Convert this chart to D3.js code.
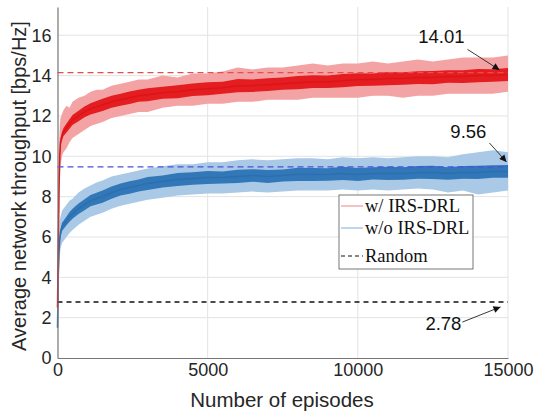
<!DOCTYPE html>
<html>
<head>
<meta charset="utf-8">
<script src="https://cdn.jsdelivr.net/npm/d3@7"></script>
<style>
  body { margin: 0; background: #fff; }
  svg { display: block; }
  .tick text { font-family: "Liberation Sans", Arial, sans-serif; font-size: 18px; fill: #262626; }
</style>
</head>
<body>
<div id="vis"></div>
<script>
// datos ------------------------------------------------------------------------
const EPISODES = [0, 25, 50, 75, 100, 150, 200, 300, 400, 500, 700, 900, 1100, 1300, 1500,
  1800, 2100, 2400, 2700, 3000, 3500, 4000, 4500, 5000, 5500, 6000, 6500, 7000, 7500, 8000,
  8500, 9000, 9500, 10000, 10500, 11000, 11500, 12000, 12500, 13000, 13500, 14000, 14500, 15000];

const RED_MEAN = [2.5, 5.5, 8.5, 10.0, 10.7, 11.0, 11.2, 11.4, 11.6, 11.8, 12.0, 12.2, 12.35, 12.45, 12.55,
  12.7, 12.8, 12.9, 13.0, 13.05, 13.15, 13.2, 13.3, 13.35, 13.4, 13.5, 13.5, 13.55, 13.6, 13.65,
  13.7, 13.7, 13.75, 13.8, 13.8, 13.85, 13.85, 13.9, 13.9, 13.95, 13.95, 14.0, 14.0, 14.05];
const RED_HI = [3.0, 8.5, 10.5, 11.5, 11.9, 12.1, 12.3, 12.5, 12.4, 12.7, 12.9, 13.0, 13.2, 13.3, 13.3,
  13.5, 13.6, 13.7, 13.8, 13.8, 14.0, 13.9, 14.1, 14.1, 14.2, 14.4, 14.3, 14.4, 14.4, 14.5,
  14.6, 14.5, 14.6, 14.6, 14.7, 14.6, 14.7, 14.8, 14.7, 14.8, 14.9, 14.9, 14.9, 15.0];
const RED_LO = [2.0, 3.5, 6.0, 8.5, 9.5, 10.0, 10.2, 10.4, 10.7, 10.9, 11.1, 11.3, 11.5, 11.6, 11.7,
  11.9, 12.0, 12.1, 12.2, 12.2, 12.4, 12.5, 12.5, 12.6, 12.6, 12.7, 12.7, 12.8, 12.8, 12.8,
  12.9, 12.9, 12.9, 12.9, 13.0, 13.0, 12.9, 13.0, 13.0, 13.1, 13.1, 13.1, 13.1, 13.2];

const BLUE_MEAN = [1.5, 4.0, 5.3, 5.9, 6.2, 6.5, 6.6, 6.8, 7.0, 7.15, 7.4, 7.6, 7.8, 7.9, 8.0,
  8.2, 8.35, 8.45, 8.55, 8.65, 8.75, 8.85, 8.9, 8.95, 8.95, 9.0, 9.05, 9.0, 9.05, 9.1,
  9.1, 9.1, 9.15, 9.1, 9.15, 9.15, 9.15, 9.2, 9.2, 9.15, 9.2, 9.2, 9.25, 9.25];
const BLUE_HI = [2.0, 5.0, 6.2, 6.8, 7.0, 7.3, 7.4, 7.6, 7.8, 7.9, 8.2, 8.4, 8.55, 8.7, 8.8,
  9.0, 9.1, 9.2, 9.3, 9.4, 9.5, 9.6, 9.6, 9.7, 9.7, 9.8, 9.85, 9.8, 9.85, 9.9,
  9.9, 9.85, 9.95, 9.9, 9.95, 9.9, 9.95, 10.0, 10.0, 9.95, 10.1, 10.2, 10.3, 10.2];
const BLUE_LO = [1.2, 3.0, 4.3, 5.0, 5.4, 5.7, 5.8, 6.0, 6.2, 6.35, 6.6, 6.8, 7.0, 7.1, 7.2,
  7.4, 7.55, 7.65, 7.75, 7.85, 7.95, 8.05, 8.1, 8.15, 8.15, 8.2, 8.25, 8.2, 8.25, 8.3,
  8.3, 8.3, 8.35, 8.3, 8.35, 8.3, 8.35, 8.4, 8.35, 8.2, 8.3, 8.1, 8.2, 8.3];

// ancho del trazo oscuro (ruido del promedio)
const TRACE_SPREAD = [0.05, 0.1, 0.15, 0.15, 0.2, 0.2, 0.2, 0.22, 0.24, 0.25, 0.26, 0.27, 0.28, 0.29, 0.3,
  0.3, 0.3, 0.31, 0.3, 0.32, 0.3, 0.32, 0.31, 0.32, 0.3, 0.33, 0.31, 0.32, 0.3, 0.33,
  0.32, 0.31, 0.33, 0.32, 0.3, 0.33, 0.31, 0.32, 0.33, 0.31, 0.32, 0.33, 0.31, 0.32];

const REF_LINES = [
  { name: "red", value: 14.15 },
  { name: "blue", value: 9.47 },
  { name: "random", value: 2.78 }
];
const ANNOTATIONS = [
  { label: "14.01", tx: 12780, ty: 15.94, x0: 13650, y0: 15.3, x1: 14720, y1: 14.28 },
  { label: "9.56", tx: 13680, ty: 11.23, x0: 14380, y0: 10.66, x1: 14950, y1: 9.72 },
  { label: "2.78", tx: 12850, ty: 1.71, x0: 13480, y0: 1.78, x1: 14750, y1: 2.53 }
];
const X_TICKS = [0, 5000, 10000, 15000];
const Y_TICKS = [0, 2, 4, 6, 8, 10, 12, 14, 16];
const LEGEND = ["w/ IRS-DRL", "w/o IRS-DRL", "Random"];

// ------------------------------------------------------------------------------
const WIDTH = 535;
const HEIGHT = 418;
const SVG = d3.select("#vis").append("svg").attr("width", WIDTH).attr("height", HEIGHT);

const x = d3.scaleLinear().domain([0, 15000]).range([57.5, 508]);
const y = d3.scaleLinear().domain([0, 17.4]).range([358, 7]);

// rejilla
SVG.append("g").selectAll("line").data(Y_TICKS.slice(1)).join("line")
  .attr("x1", x(0)).attr("x2", x(15000))
  .attr("y1", d => y(d)).attr("y2", d => y(d))
  .attr("stroke", "#e3e3e3").attr("stroke-width", 1);
SVG.append("g").selectAll("line").data(X_TICKS.slice(1)).join("line")
  .attr("x1", d => x(d)).attr("x2", d => x(d))
  .attr("y1", y(0)).attr("y2", y(17.4))
  .attr("stroke", "#e3e3e3").attr("stroke-width", 1);

// bandas
function band(hi, lo) {
  return d3.area()
    .x((d, i) => x(EPISODES[i]))
    .y0((d, i) => y(lo[i]))
    .y1((d, i) => y(hi[i]))(EPISODES);
}
function trace(mean) {
  return d3.area()
    .x((d, i) => x(EPISODES[i]))
    .y0((d, i) => y(mean[i] - TRACE_SPREAD[i]))
    .y1((d, i) => y(mean[i] + TRACE_SPREAD[i]))(EPISODES);
}
const meanLine = d3.line().x((d, i) => x(EPISODES[i])).y(d => y(d));

SVG.append("path").attr("d", band(BLUE_HI, BLUE_LO)).attr("fill", "#a9c9e6");
SVG.append("path").attr("d", trace(BLUE_MEAN)).attr("fill", "#3278b8");
SVG.append("path").attr("d", meanLine(BLUE_MEAN)).attr("fill", "none").attr("stroke", "#2c6fae").attr("stroke-width", 1.5);

SVG.append("path").attr("d", band(RED_HI, RED_LO)).attr("fill", "#f4a3a4");
SVG.append("path").attr("d", trace(RED_MEAN)).attr("fill", "#e41d20");
SVG.append("path").attr("d", meanLine(RED_MEAN)).attr("fill", "none").attr("stroke", "#dc1418").attr("stroke-width", 1.5);

// lineas de referencia
const refColor = { red: "#ee4a4a", blue: "#4b4fe0", random: "#111" };
SVG.append("g").selectAll("line").data(REF_LINES).join("line")
  .attr("x1", x(0)).attr("x2", x(15000))
  .attr("y1", d => y(d.value)).attr("y2", d => y(d.value))
  .attr("stroke", d => refColor[d.name])
  .attr("stroke-width", d => d.name === "random" ? 1.5 : 1.2)
  .attr("stroke-dasharray", d => d.name === "random" ? "5,4" : "6,4");

// ejes
const xAxis = SVG.append("g").attr("transform", `translate(0,${y(0)})`)
  .call(d3.axisBottom(x).tickValues(X_TICKS).tickFormat(d3.format("d")).tickSize(0).tickPadding(3));
const yAxis = SVG.append("g").attr("transform", `translate(${x(0)},0)`)
  .call(d3.axisLeft(y).tickValues(Y_TICKS).tickSize(0).tickPadding(6));
[xAxis, yAxis].forEach(g => {
  g.select(".domain").attr("stroke", "#767676").attr("stroke-width", 1.2);
});
xAxis.selectAll(".tick text").attr("dy", "0.85em");

SVG.append("text")
  .attr("x", 282).attr("y", 407)
  .attr("text-anchor", "middle")
  .style("font-family", "Liberation Sans, Arial, sans-serif")
  .style("font-size", "20.5px").style("fill", "#262626")
  .text("Number of episodes");
SVG.append("text")
  .attr("transform", "translate(26,186) rotate(-90)")
  .attr("text-anchor", "middle")
  .style("font-family", "Liberation Sans, Arial, sans-serif")
  .style("font-size", "20px").style("fill", "#262626")
  .text("Average network throughput [bps/Hz]");

// anotaciones
const defs = SVG.append("defs");
defs.append("marker").attr("id", "arrow")
  .attr("viewBox", "0 0 10 10").attr("refX", 10).attr("refY", 5)
  .attr("markerWidth", 9).attr("markerHeight", 7).attr("markerUnits", "userSpaceOnUse")
  .attr("orient", "auto")
  .append("path").attr("d", "M0,0 L10,5 L0,10 z").attr("fill", "#111");

const ann = SVG.append("g");
ann.selectAll("line").data(ANNOTATIONS).join("line")
  .attr("x1", d => x(d.x0)).attr("y1", d => y(d.y0))
  .attr("x2", d => x(d.x1)).attr("y2", d => y(d.y1))
  .attr("stroke", "#222").attr("stroke-width", 0.9)
  .attr("marker-end", "url(#arrow)");
ann.selectAll("text").data(ANNOTATIONS).join("text")
  .attr("x", d => x(d.tx)).attr("y", d => y(d.ty))
  .attr("text-anchor", "middle").attr("dy", "0.36em")
  .style("font-family", "Liberation Sans, Arial, sans-serif")
  .style("font-size", "18.5px").style("fill", "#111")
  .text(d => d.label);

// leyenda
const leg = SVG.append("g").attr("transform", "translate(339,195)");
leg.append("rect").attr("width", 134).attr("height", 74)
  .attr("fill", "#fff").attr("stroke", "#555").attr("stroke-width", 0.8);
const legRows = [
  { y: 11, stroke: "#ef9a9b", dash: null },
  { y: 33, stroke: "#94bcdf", dash: null },
  { y: 61, stroke: "#111", dash: "4,3" }
];
leg.selectAll("line").data(legRows).join("line")
  .attr("x1", 2).attr("x2", 24)
  .attr("y1", d => d.y).attr("y2", d => d.y)
  .attr("stroke", d => d.stroke).attr("stroke-width", 1.2)
  .attr("stroke-dasharray", d => d.dash);
leg.selectAll("text").data(LEGEND).join("text")
  .attr("x", 26).attr("y", (d, i) => legRows[i].y)
  .attr("dy", "0.33em")
  .style("font-family", "Liberation Serif, Times New Roman, serif")
  .style("font-size", "18.5px").style("fill", "#111")
  .text(d => d);
</script>
</body>
</html>
